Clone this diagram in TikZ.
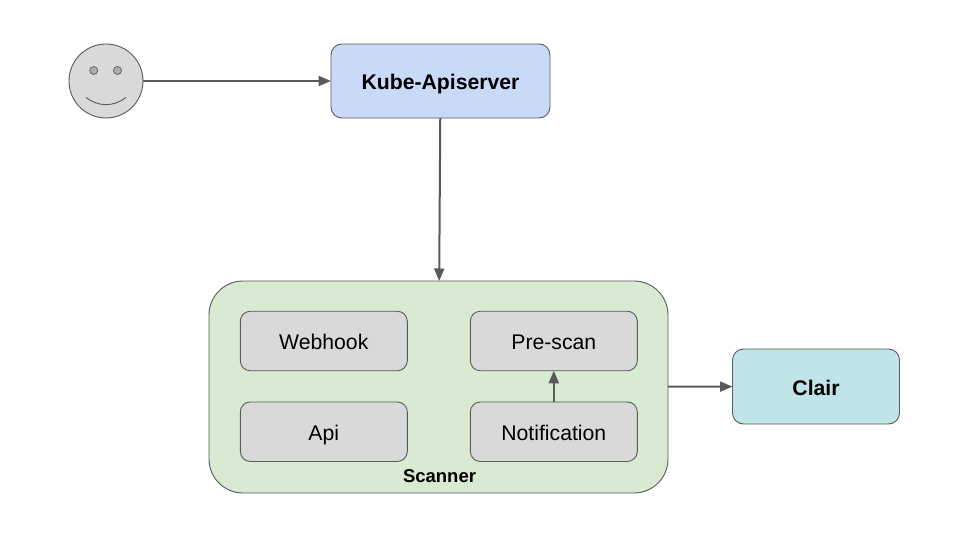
\documentclass[tikz,border=0pt]{standalone}
\usepackage{fontspec}
\setmainfont{Liberation Sans}
\usetikzlibrary{arrows.meta}
\definecolor{Ink}{HTML}{000000}
\definecolor{RuleGray}{HTML}{595959}
\definecolor{BoxGray}{HTML}{D9D9D9}
\definecolor{EyeGray}{HTML}{ADADAD}
\definecolor{ApiBlue}{HTML}{C9DAF8}
\definecolor{ScanGreen}{HTML}{D9EAD3}
\definecolor{ClairTeal}{HTML}{BFE5E8}
\tikzset{
  mainBox/.style={rectangle,rounded corners=11pt,draw=RuleGray,line width=.9pt,text=Ink,
    outer sep=0pt,align=center,text height=17pt,text depth=0pt,font=\bfseries\fontsize{21.2}{24}\selectfont},
  innerBox/.style={rectangle,rounded corners=10pt,draw=RuleGray,line width=.9pt,fill=BoxGray,text=Ink,
    minimum width=167pt,minimum height=59.5pt,outer sep=0pt,align=center,
    text height=17pt,text depth=0pt,font=\fontsize{21.2}{24}\selectfont},
  groupBox/.style={rectangle,rounded corners=34pt,draw=RuleGray,line width=.9pt,fill=ScanGreen,
    minimum width=459pt,minimum height=212pt,outer sep=0pt},
  groupLabel/.style={text=Ink,inner sep=0pt,font=\bfseries\fontsize{18.5}{22}\selectfont},
  faceBody/.style={circle,draw=RuleGray,line width=.9pt,fill=BoxGray,minimum size=74pt,inner sep=0pt,outer sep=0pt},
  faceEye/.style={circle,draw=RuleGray,line width=.7pt,fill=EyeGray,minimum size=8pt,inner sep=0pt},
  faceLine/.style={draw=RuleGray,line width=.9pt},
  flow/.style={-{Triangle[length=12.5pt,width=10pt]},draw=RuleGray,line width=2pt}
}
\begin{document}
\begin{tikzpicture}[x=1pt,y=-1pt]
  \useasboundingbox (0,0) rectangle (960,540);
  \node[faceBody] (face) at (106,81) {};
  \node[faceEye] (eyeL) at (93.7,70.5) {};
  \node[faceEye] (eyeR) at (117.5,70.5) {};
  \draw[faceLine] (86,97.5) .. controls (98,107) and (114,107) .. (126,97.5);
  \node[mainBox,fill=ApiBlue,minimum width=219pt,minimum height=74pt] (apiserver) at (440.5,81) {Kube-Apiserver};
  \node[groupBox] (scanner) at (438.5,387) {};
  \node[groupLabel] (scannerLabel) at (439.5,476) {Scanner};
  \node[innerBox] (webhook) at (323.8,341) {Webhook};
  \node[innerBox] (prescan) at (553.8,341) {Pre-scan};
  \node[innerBox] (api) at (323.8,431.7) {Api};
  \node[innerBox] (notification) at (553.8,431.7) {Notification};
  \node[mainBox,fill=ClairTeal,minimum width=167pt,minimum height=75pt] (clair) at (816,386.5) {Clair};
  \draw[flow] (face) -- (apiserver);
  \draw[flow] (apiserver) -- (scanner);
  \draw[flow] (notification) -- (prescan);
  \draw[flow] (scanner) -- (clair);
\end{tikzpicture}
\end{document}
